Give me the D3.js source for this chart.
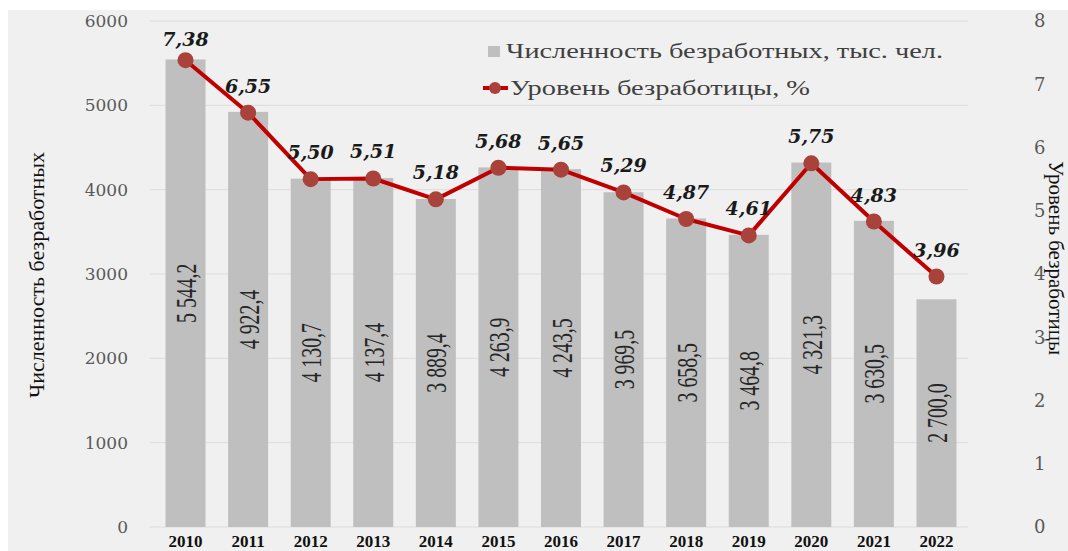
<!DOCTYPE html>
<html>
<head>
<meta charset="utf-8">
<script src="https://cdnjs.cloudflare.com/ajax/libs/d3/7.8.5/d3.min.js"></script>
<style>
    body { margin: 0; background: #ffffff; }
    svg { display: block; }
</style>
</head>
<body>
<svg id="chart"></svg>
<script>
// data
var years = ["2010", "2011", "2012", "2013", "2014", "2015", "2016", "2017", "2018", "2019", "2020", "2021", "2022"];
var unemployed = [5544.2, 4922.4, 4130.7, 4137.4, 3889.4, 4263.9, 4243.5, 3969.5, 3658.5, 3464.8, 4321.3, 3630.5, 2700.0];
var rate = [7.38, 6.55, 5.50, 5.51, 5.18, 5.68, 5.65, 5.29, 4.87, 4.61, 5.75, 4.83, 3.96];
var leftTicks = [0, 1000, 2000, 3000, 4000, 5000, 6000];
var rightTicks = [0, 1, 2, 3, 4, 5, 6, 7, 8];
var legendBar = "Численность безработных, тыс. чел.";
var legendLine = "Уровень безработицы, %";
var titleLeft = "Численность безработных";
var titleRight = "Уровень безработицы";

var svgWidth = 1068, svgHeight = 551;
var plot = { left: 150, right: 972, top: 21, bottom: 527 };

function fmtCount(v) {
    // 5544.2 -> "5 544,2"
    var s = v.toFixed(1).replace(".", ",");
    var parts = s.split(",");
    var int = parts[0];
    if (int.length > 3) {
        int = int.slice(0, int.length - 3) + " " + int.slice(int.length - 3);
    }
    return int + "," + parts[1];
}

function fmtRate(v) {
    return v.toFixed(2).replace(".", ",");
}

var svg = d3.select("#chart").attr("width", svgWidth).attr("height", svgHeight);

// background
svg.append("rect").attr("x", 8).attr("y", 10).attr("width", svgWidth - 8).attr("height", svgHeight - 10)
    .attr("fill", "#f0f0f0");

// scales
var x = d3.scaleBand().domain(years).range([plot.left, plot.right]).paddingInner(0.361).paddingOuter(0.248);
var yL = d3.scaleLinear().domain([0, 6000]).range([plot.bottom, plot.top]);
var yR = d3.scaleLinear().domain([0, 8]).range([plot.bottom, plot.top]);

// gridlines
svg.append("g").selectAll("line")
    .data(leftTicks)
    .enter().append("line")
    .attr("x1", plot.left)
    .attr("x2", plot.right - 4)
    .attr("y1", function (d) { return yL(d); })
    .attr("y2", function (d) { return yL(d); })
    .attr("stroke", "#dcdcdc")
    .attr("stroke-width", 1);

// left axis
var axisL = svg.append("g").attr("transform", "translate(" + (plot.left - 22) + ",0)")
    .call(d3.axisLeft(yL).tickValues(leftTicks).tickFormat(d3.format("d")).tickSize(0).tickPadding(0));
axisL.select(".domain").remove();
axisL.selectAll("text")
    .attr("font-family", "'DejaVu Serif', serif")
    .attr("font-size", "17px")
    .attr("fill", "#595959");

// right axis
var axisR = svg.append("g").attr("transform", "translate(" + (plot.right + 62) + ",0)")
    .call(d3.axisRight(yR).tickValues(rightTicks).tickSize(0).tickPadding(0));
axisR.select(".domain").remove();
axisR.selectAll("text")
    .attr("font-family", "'DejaVu Serif', serif")
    .attr("font-size", "18px")
    .attr("fill", "#595959");

// bottom axis (years)
var axisB = svg.append("g").attr("transform", "translate(0," + plot.bottom + ")")
    .call(d3.axisBottom(x).tickSize(0).tickPadding(0));
axisB.select(".domain").remove();
axisB.selectAll("text")
    .attr("dy", "20px")
    .attr("font-family", "'Liberation Serif', serif")
    .attr("font-weight", "bold")
    .attr("font-size", "17px")
    .attr("fill", "#111111");

// bars
svg.append("g").selectAll(".bar")
    .data(unemployed)
    .enter().append("rect")
    .attr("class", "bar")
    .attr("x", function (d, i) { return x(years[i]); })
    .attr("width", x.bandwidth())
    .attr("y", function (d) { return yL(d); })
    .attr("height", function (d) { return plot.bottom - yL(d); })
    .attr("fill", "#bfbfbf");

// bar value labels, rotated, centred in the bar
svg.append("g").selectAll("text")
    .data(unemployed)
    .enter().append("text")
    .attr("transform", function (d, i) {
        var cx = x(years[i]) + x.bandwidth() / 2;
        var cy = (yL(d) + plot.bottom) / 2;
        return "translate(" + cx + "," + cy + ") rotate(-90) scale(0.66,1)";
    })
    .attr("text-anchor", "middle")
    .attr("dy", "0.35em")
    .attr("font-family", "'Liberation Serif', serif")
    .attr("font-size", "30px")
    .attr("fill", "#262626")
    .text(function (d) { return fmtCount(d); });

// rate line
var line = d3.line()
    .x(function (d, i) { return x(years[i]) + x.bandwidth() / 2; })
    .y(function (d) { return yR(d); });

svg.append("path")
    .datum(rate)
    .attr("d", line)
    .attr("fill", "none")
    .attr("stroke", "#c00000")
    .attr("stroke-width", 4)
    .attr("stroke-linejoin", "round");

svg.append("g").selectAll("circle")
    .data(rate)
    .enter().append("circle")
    .attr("cx", function (d, i) { return x(years[i]) + x.bandwidth() / 2; })
    .attr("cy", function (d) { return yR(d); })
    .attr("r", 8)
    .attr("fill", "#a8423a");

// rate labels
svg.append("g").selectAll("text")
    .data(rate)
    .enter().append("text")
    .attr("x", function (d, i) { return x(years[i]) + x.bandwidth() / 2; })
    .attr("y", function (d) { return Math.max(yR(d) - 20, 46); })
    .attr("text-anchor", "middle")
    .attr("font-family", "'DejaVu Serif', serif")
    .attr("font-weight", "bold")
    .attr("font-style", "italic")
    .attr("font-size", "19px")
    .attr("fill", "#1a1a1a")
    .text(function (d) { return fmtRate(d); });

// legend
var lg = svg.append("g");
lg.append("rect").attr("x", 488).attr("y", 46).attr("width", 12).attr("height", 11).attr("fill", "#bfbfbf");
lg.append("text").attr("x", 506).attr("y", 58)
    .attr("font-family", "'Liberation Serif', serif")
    .attr("font-size", "20px")
    .attr("fill", "#404040")
    .attr("textLength", 437)
    .attr("lengthAdjust", "spacingAndGlyphs")
    .text(legendBar);
lg.append("line").attr("x1", 483).attr("x2", 508).attr("y1", 88).attr("y2", 88)
    .attr("stroke", "#c00000").attr("stroke-width", 4);
lg.append("circle").attr("cx", 495).attr("cy", 88).attr("r", 6).attr("fill", "#a8423a");
lg.append("text").attr("x", 510).attr("y", 95)
    .attr("font-family", "'Liberation Serif', serif")
    .attr("font-size", "20px")
    .attr("fill", "#404040")
    .attr("textLength", 300)
    .attr("lengthAdjust", "spacingAndGlyphs")
    .text(legendLine);

// axis titles
svg.append("text")
    .attr("transform", "translate(44,275) rotate(-90)")
    .attr("text-anchor", "middle")
    .attr("font-family", "'Liberation Serif', serif")
    .attr("font-size", "22px")
    .attr("fill", "#111111")
    .text(titleLeft);

svg.append("text")
    .attr("transform", "translate(1049,258) rotate(90)")
    .attr("text-anchor", "middle")
    .attr("font-family", "'Liberation Serif', serif")
    .attr("font-size", "21px")
    .attr("fill", "#111111")
    .text(titleRight);
</script>
</body>
</html>
